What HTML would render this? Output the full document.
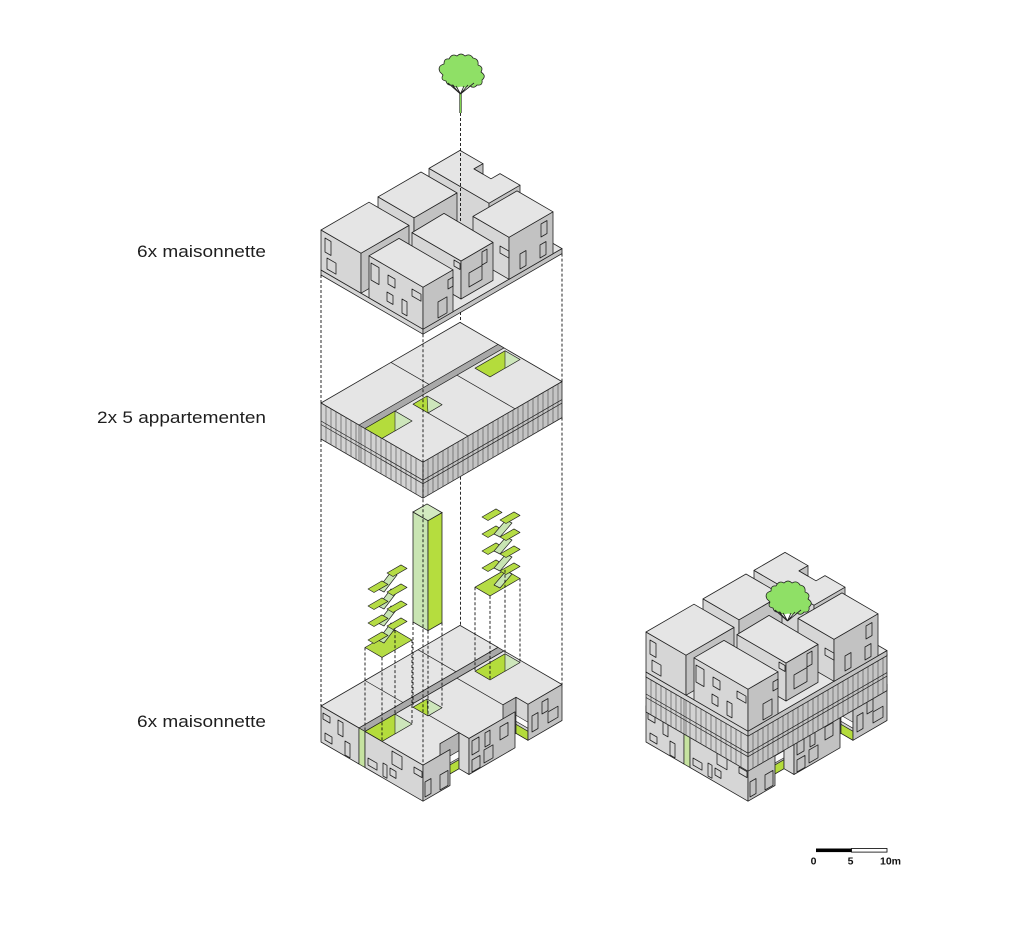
<!DOCTYPE html>
<html><head><meta charset="utf-8">
<style>
html,body{margin:0;padding:0;background:#fff;}
svg{display:block;}
.t{fill:#e5e5e5;stroke:#222;stroke-width:0.8;stroke-linejoin:round}
.l{fill:#d6d6d6;stroke:#222;stroke-width:0.8;stroke-linejoin:round}
.r{fill:#c2c2c2;stroke:#222;stroke-width:0.8;stroke-linejoin:round}
.rd{fill:#b4b4b4;stroke:#222;stroke-width:0.8;stroke-linejoin:round}
.fl{fill:#d2d2d2;stroke:#222;stroke-width:0.8;stroke-linejoin:round}
.fr{fill:#c4c4c4;stroke:#222;stroke-width:0.8;stroke-linejoin:round}
.gv{fill:#a9a9a9;stroke:#222;stroke-width:0.7;stroke-linejoin:round}
.w{fill:none;stroke:#222;stroke-width:0.8;stroke-linejoin:round}
.mul{fill:none;stroke:#4a4a4a;stroke-width:0.6}
.g{fill:#b4dc3c;stroke:#222;stroke-width:0.7;stroke-linejoin:round}
.pg{fill:#cde6bb;stroke:#222;stroke-width:0.6;stroke-linejoin:round}
.ln{fill:none;stroke:#222;stroke-width:0.7}
.d{fill:none;stroke:#111;stroke-width:0.9;stroke-dasharray:3 2}
.wh{fill:#fbfbfb;stroke:#222;stroke-width:0.6}
.lbl{font-family:"Liberation Sans",sans-serif;font-size:17px;fill:#1e1e1e}
.sc{font-family:"Liberation Sans",sans-serif;font-size:10.5px;font-weight:bold;fill:#111}
</style></head><body>
<svg width="1024" height="949" viewBox="0 0 1024 949" xmlns="http://www.w3.org/2000/svg">
<defs>
<g id="T">
<polygon class="t" points="321,270 423,329.2 562,248.6 460,189.4"/>
<polygon class="l" points="321,270 423,329.2 423,334.2 321,275"/>
<polygon class="r" points="423,329.2 562,248.6 562,253.6 423,334.2"/>
<polygon class="l" points="429,207.4 489,242.2 489,203.2 429,168.4"/>
<polygon class="r" points="489,242.2 520,224.2 520,185.2 489,203.2"/>
<polygon class="t" points="429,168.4 460,150.4 483,163.7 474,168.9 491,178.8 500,173.6 520,185.2 489,203.2"/>
<polygon class="r" points="474,168.9 483,163.7 483,174.1"/>
<polygon class="l" points="378,236.9 414,257.8 414,217.8 378,196.9"/>
<polygon class="r" points="414,257.8 457,232.9 457,192.9 414,217.8"/>
<polygon class="t" points="378,196.9 414,217.8 457,192.9 421,172"/>
<polygon class="l" points="473,258.4 509,279.3 509,237.3 473,216.4"/>
<polygon class="r" points="509,279.3 553,253.8 553,211.8 509,237.3"/>
<polygon class="t" points="473,216.4 509,237.3 553,211.8 517,190.9"/>
<polygon class="l" points="321,270 361,293.2 361,253.2 321,230"/>
<polygon class="r" points="361,293.2 409,265.4 409,225.4 361,253.2"/>
<polygon class="t" points="321,230 361,253.2 409,225.4 369,202.2"/>
<polygon class="l" points="412,270.6 461,299 461,261 412,232.6"/>
<polygon class="r" points="461,299 493,280.4 493,242.4 461,261"/>
<polygon class="t" points="412,232.6 461,261 493,242.4 444,213.4"/>
<polygon class="l" points="369,297.8 423,329.2 423,287.2 369,255.8"/>
<polygon class="r" points="423,329.2 453,311.8 453,269.8 423,287.2"/>
<polygon class="t" points="369,255.8 423,287.2 453,269.8 399,238.4"/>
<path class="w" d="M325,238 l6,3.5 v14 l-6,-3.5 z M327,258 l9,5.2 v11 l-9,-5.2 z M371,263 l8,4.6 v17 l-8,-4.6 z M388,275 l7,4.1 v9 l-7,-4.1 z M387,292 l6,3.5 v9 l-6,-3.5 z M402,299 l5,2.9 v14 l-5,-2.9 z M412,289 l9,5.2 v7 l-9,-5.2 z M438,302 l9,-5.2 v16 l-9,5.2 z M448,280 l5,-2.9 v9 l-5,2.9 z M454,260 l6,3.5 v6 l-6,-3.5 z M482,252 l5,-2.9 v13 l-5,2.9 z M469,273 l13,-7.5 v14 l-13,7.5 z M500,246 l9,5.2 v7 l-9,-5.2 z M541,224 l6,-3.5 v13 l-6,3.5 z M540,245 l6,-3.5 v13 l-6,3.5 z M520,254 l6,-3.5 v15 l-6,3.5 z"/>
</g>

<g id="A">
<polygon class="t" points="321,403 423,462.2 562,381.6 460,322.4"/>
<polygon class="fl" points="321,403 423,462.2 423,498.2 321,439"/>
<polygon class="fr" points="423,462.2 562,381.6 562,417.6 423,498.2"/>
<path class="mul" d="M326,405.9v36M331,408.8v36M336,411.7v36M341,414.6v36M346,417.5v36M351,420.4v36M356,423.3v36M359,425v36M361,426.2v36M365,428.5v36M371,432v36M376,434.9v36M381,437.8v36M386,440.7v36M391,443.6v36M396,446.5v36M401,449.4v36M406,452.3v36M411,455.2v36M416,458.1v36M428,459.3v36M433,456.4v36M438,453.5v36M443,450.6v36M448,447.7v36M453,444.8v36M458,441.9v36M463,439v36M468,436.1v36M473,433.2v36M478,430.3v36M483,427.4v36M488,424.5v36M493,421.6v36M498,418.7v36M503,415.8v36M508,412.9v36M513,410v36M518,407.1v36M523,404.2v36M528,401.3v36M533,398.4v36M538,395.5v36M543,392.6v36M548,389.7v36M553,386.8v36M558,383.9v36"/>
<path class="ln" d="M321,421 L423,480.2 L562,399.6 M321,424.5 L423,483.7 L562,403.1"/>
<polygon class="gv" points="359,425 498,344.4 504,347.9 365,428.5"/>
<path class="ln" d="M391,362.4 L429,384.4 M428,412.9 L468,436.1 M457,375.2 L515,408.8"/>
<polygon class="g" points="365,428.5 395,411.1 412,421 382,438.4"/>
<polygon class="pg" points="395,411.1 412,421 395,430.9"/>
<polygon class="g" points="413,404.2 427,396 442,404.7 428,412.9"/>
<polygon class="pg" points="427,396 442,404.7 428,412.9"/>
<polygon class="g" points="475,368.2 505,350.8 520,359.5 490,376.9"/>
<polygon class="pg" points="505,350.8 520,359.5 505,368.2"/>
</g>

<g id="M">
<polygon class="t" points="321,706 359,728 498,647.4 460,625.4"/>
<polygon class="gv" points="359,728 498,647.4 504,650.9 365,731.5"/>
<polygon class="t" points="365,731.5 423,765.2 450,749.5 440,743.7 459,732.7 469,738.5 515,711.8 503,704.8 516,697.3 528,704.3 562,684.5 504,650.9"/>
<path class="ln" d="M365,680.5 L403,702.5 M418,649.7 L456,671.8 M429,715.3 L459,732.7 M457,678.2 L503,704.8"/>
<polygon class="g" points="365,731.5 395,714.1 412,724 382,741.4"/>
<polygon class="pg" points="395,714.1 412,724 395,733.9"/>
<polygon class="g" points="413,707.2 427,699 442,707.7 428,715.9"/>
<polygon class="pg" points="427,699 442,707.7 428,715.9"/>
<polygon class="g" points="475,671.2 505,653.8 520,662.5 490,679.9"/>
<polygon class="pg" points="505,653.8 520,662.5 505,671.2"/>
<polygon class="l" points="321,706 359,728 359,764 321,742"/>
<polygon fill="#c6e3a0" stroke="#222" stroke-width="0.7" points="359,728 365,731.5 365,767.5 359,764"/>
<polygon class="l" points="365,731.5 423,765.2 423,801.2 365,767.5"/>
<polygon class="rd" points="440,743.7 459,732.7 459,768.7 440,779.7"/>
<polygon class="wh" points="440,761.7 459,750.7 459,757.7 440,768.7"/>
<polygon class="g" points="440,770.7 459,759.7 459,768.7 440,779.7"/>
<polygon class="r" points="423,765.2 450,749.5 450,785.5 423,801.2"/>
<polygon class="l" points="459,732.7 469,738.5 469,774.5 459,768.7"/>
<polygon class="rd" points="503,704.8 516,697.3 516,733.3 503,740.8"/>
<polygon class="r" points="469,738.5 515,711.8 515,747.8 469,774.5"/>
<polygon class="l" points="516,697.3 528,704.3 528,740.3 516,733.3"/>
<polygon class="wh" points="516,715.3 528,722.3 528,728.3 516,721.3"/>
<polygon class="g" points="516,724.3 528,731.3 528,740.3 516,733.3"/>
<polygon class="r" points="528,704.3 562,684.5 562,720.5 528,740.3"/>
<path class="w" d="M323,713 l7,4.1 v6 l-7,-4.1 z M338,720 l5,2.9 v14 l-5,-2.9 z M325,733 l7,4.1 v7 l-7,-4.1 z M345,741 l5,2.9 v14 l-5,-2.9 z M368,758 l9,5.2 v7 l-9,-5.2 z M383,763 l4,2.3 v13 l-4,-2.3 z M392,751 l10,5.8 v13 l-10,-5.8 z M390,768 l6,3.5 v7 l-6,-3.5 z M414,767 l8,4.6 v6 l-8,-4.6 z M425,782 l6,-3.5 v15 l-6,3.5 z M440,775 l8,-4.6 v15 l-8,4.6 z M472,741 l7,-4.1 v14 l-7,4.1 z M485,733 l5,-2.9 v14 l-5,2.9 z M500,727 l8,-4.6 v13 l-8,4.6 z M472,760 l8,-4.6 v12 l-8,4.6 z M484,750 l9,-5.2 v13 l-9,5.2 z M542,702 l6,-3.5 v12 l-6,3.5 z M548,712 l10,-5.8 v11 l-10,5.8 z M532,716 l6,-3.5 v16 l-6,3.5 z"/>
</g>

<g id="canopy">
<path fill="#8fe066" stroke="#222" stroke-width="0.8" stroke-linejoin="round" d="M440,72 q-3,-6 4,-8 q0,-6 5,-5 q3,-6 8,-3 q4,-4 8,0 q5,-3 8,2 q6,1 5,7 q6,2 3,7 q6,4 1,8 q1,6 -5,5 q-3,4 -7,1 q-4,5 -9,1 q-5,3 -8,-2 q-6,1 -7,-4 q-6,-1 -3,-6 z"/>
<polygon fill="#fff" points="449,84 453,86.5 457,87.5 461,86.5 465,87.5 469,86.5 474,84 461,93"/>
<path fill="none" stroke="#222" stroke-width="0.9" d="M460.5,94 L448,83 M460.5,94 L452,85 M460.5,94 L456,86 M460.5,94 L464,86 M460.5,94 L468,85 M460.5,94 L474,83"/>
</g>
</defs>

<text class="lbl" x="137" y="257" textLength="129" lengthAdjust="spacingAndGlyphs">6x maisonnette</text>
<text class="lbl" x="97" y="423" textLength="169" lengthAdjust="spacingAndGlyphs">2x 5 appartementen</text>
<text class="lbl" x="137" y="727" textLength="129" lengthAdjust="spacingAndGlyphs">6x maisonnette</text>

<use href="#M"/>
<use href="#A"/>
<use href="#T"/>

<polygon fill="#c9e5b3" stroke="#222" stroke-width="0.8" points="413,512 428,520.7 428,630.7 413,622"/>
<polygon fill="#b5dd3e" stroke="#222" stroke-width="0.8" points="428,520.7 442,512.6 442,622.6 428,630.7"/>
<polygon fill="#d3eac0" stroke="#222" stroke-width="0.8" points="413,512 427,503.9 442,512.6 428,520.7"/>

<g stroke="#222" stroke-width="0.7" stroke-linejoin="round">
<polygon fill="#b5dc45" points="365,647.5 395,630.1 412,640 382,657.4"/>
<polygon fill="#c8e5b2" points="378,640 384,643 397,626 391,623"/>
<polygon fill="#b5dc45" points="368,640 382,631.9 388,635.4 374,643.5"/>
<polygon fill="#b5dc45" points="387,626 401,617.9 407,621.4 393,629.5"/>
<polygon fill="#c8e5b2" points="378,623 384,626 397,609 391,606"/>
<polygon fill="#b5dc45" points="368,623 382,614.9 388,618.4 374,626.5"/>
<polygon fill="#b5dc45" points="387,609 401,600.9 407,604.4 393,612.5"/>
<polygon fill="#c8e5b2" points="378,606 384,609 397,592 391,589"/>
<polygon fill="#b5dc45" points="368,606 382,597.9 388,601.4 374,609.5"/>
<polygon fill="#b5dc45" points="387,592 401,583.9 407,587.4 393,595.5"/>
<polygon fill="#c8e5b2" points="378,589 384,592 397,575 391,572"/>
<polygon fill="#b5dc45" points="368,589 382,580.9 388,584.4 374,592.5"/>
<polygon fill="#b5dc45" points="387,573 401,564.9 407,568.4 393,576.5"/>
</g>

<g stroke="#222" stroke-width="0.7" stroke-linejoin="round">
<polygon fill="#b5dc45" points="475,587.2 505,569.8 520,578.5 490,595.9"/>
<polygon fill="#c8e5b2" points="494,585 500,588 512,574 506,571"/>
<polygon fill="#b5dc45" points="482,568 496,559.9 502,563.4 488,571.5"/>
<polygon fill="#b5dc45" points="500,571 514,562.9 520,566.4 506,574.5"/>
<polygon fill="#c8e5b2" points="494,568 500,571 512,557 506,554"/>
<polygon fill="#b5dc45" points="482,551 496,542.9 502,546.4 488,554.5"/>
<polygon fill="#b5dc45" points="500,554 514,545.9 520,549.4 506,557.5"/>
<polygon fill="#c8e5b2" points="494,551 500,554 512,540 506,537"/>
<polygon fill="#b5dc45" points="482,534 496,525.9 502,529.4 488,537.5"/>
<polygon fill="#b5dc45" points="500,537 514,528.9 520,532.4 506,540.5"/>
<polygon fill="#c8e5b2" points="494,534 500,537 512,523 506,520"/>
<polygon fill="#b5dc45" points="482,517 496,508.9 502,512.4 488,520.5"/>
<polygon fill="#b5dc45" points="500,520 514,511.9 520,515.4 506,523.5"/>
</g>

<path class="d" d="M321,275 V403 M321,439 V706 M562,253.6 V381.6 M562,417.6 V684.5 M423,334.2 V765.2 M460.5,113 V222 M460.5,312 V322.4 M460.5,476.7 V625.4 M413,622 V707.2 M428,630.7 V715.9 M442,622.6 V707.7 M365,647.5 V731.5 M382,657.4 V741.4 M395,630.1 V714.1 M412,640 V724 M475,587.2 V671.2 M490,595.9 V679.9 M505,569.8 V653.8 M520,578.5 V662.5"/>

<line x1="460.5" y1="92" x2="460.5" y2="113" stroke="#333" stroke-width="2.4"/>
<line x1="460.5" y1="92" x2="460.5" y2="113" stroke="#7fd24e" stroke-width="1.2"/>
<use href="#canopy"/>

<use href="#M" transform="translate(325,0)"/>
<use href="#A" transform="translate(325,273)"/>
<use href="#T" transform="translate(325,402)"/>
<use href="#canopy" transform="translate(327,527)"/>

<rect x="816" y="848.5" width="35.5" height="3.6" fill="#000"/>
<rect x="851.5" y="848.5" width="35.5" height="3.6" fill="#fff" stroke="#000" stroke-width="0.8"/>
<text class="sc" x="813.5" y="864.5" text-anchor="middle">0</text>
<text class="sc" x="850.5" y="864.5" text-anchor="middle">5</text>
<text class="sc" x="880" y="864.5">10m</text>
</svg>
</body></html>
